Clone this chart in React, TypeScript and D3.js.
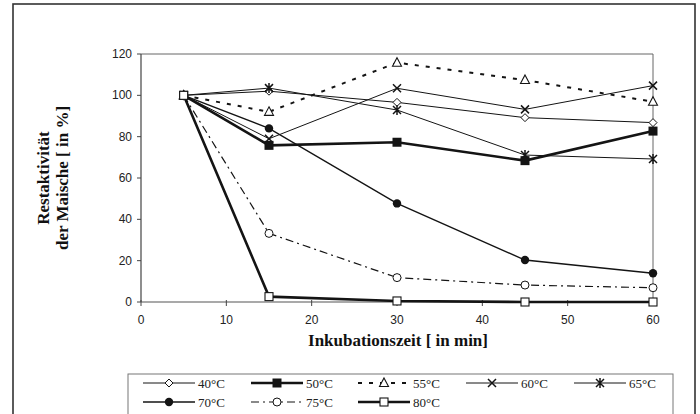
import React from "react";
import * as d3 from "d3";

const times = [5, 15, 30, 45, 60];
const seriesNames = ["40°C", "50°C", "55°C", "60°C", "65°C", "70°C", "75°C", "80°C"];
const s40 = [100, 102, 96.6, 89.2, 86.8];
const s50 = [100, 75.8, 77.3, 68.4, 82.7];
const s55 = [100, 92, 115.8, 107.4, 96.9];
const s60 = [100, 79, 103.4, 93.2, 104.7];
const s65 = [100, 103.5, 92.9, 71.1, 69.2];
const s70 = [100, 84, 47.7, 20.3, 13.9];
const s75 = [100, 33.2, 11.8, 8.2, 6.9];
const s80 = [100, 2.6, 0.5, 0, 0];
const xTicks = [0, 10, 20, 30, 40, 50, 60];
const yTicks = [0, 20, 40, 60, 80, 100, 120];

type Style = { w: number; dash?: string; marker: string };
const styles: Style[] = [
  { w: 1, marker: "diamond" },
  { w: 2.6, marker: "filledSquare" },
  { w: 2, dash: "4,7", marker: "triangle" },
  { w: 1, marker: "x" },
  { w: 1, marker: "star" },
  { w: 1.4, marker: "filledCircle" },
  { w: 1.2, dash: "8,4,2,4", marker: "circle" },
  { w: 2.6, marker: "square" },
];
const allSeries = [s40, s50, s55, s60, s65, s70, s75, s80];

const ink = "#141414";

function Marker({ type, x, y }: { type: string; x: number; y: number }) {
  const r = 4;
  switch (type) {
    case "diamond":
      return <path d={`M${x},${y - r}L${x + r},${y}L${x},${y + r}L${x - r},${y}Z`} fill="white" stroke={ink} strokeWidth={1} />;
    case "filledSquare":
      return <rect x={x - 4.5} y={y - 4.5} width={9} height={9} fill={ink} />;
    case "triangle":
      return <path d={`M${x},${y - 5}L${x + 4.5},${y + 3.5}L${x - 4.5},${y + 3.5}Z`} fill="white" stroke={ink} strokeWidth={1.1} />;
    case "x":
      return <path d={`M${x - 4},${y - 4}L${x + 4},${y + 4}M${x + 4},${y - 4}L${x - 4},${y + 4}`} stroke={ink} strokeWidth={1.5} />;
    case "star":
      return <path d={`M${x - 4},${y - 4}L${x + 4},${y + 4}M${x + 4},${y - 4}L${x - 4},${y + 4}M${x},${y - 5}L${x},${y + 5}`} stroke={ink} strokeWidth={1.5} />;
    case "filledCircle":
      return <circle cx={x} cy={y} r={4.2} fill={ink} />;
    case "circle":
      return <circle cx={x} cy={y} r={4} fill="white" stroke={ink} strokeWidth={1} />;
    case "square":
      return <rect x={x - 4} y={y - 4} width={8} height={8} fill="white" stroke={ink} strokeWidth={1.1} />;
  }
  return null;
}

export default function App() {
  const x = d3.scaleLinear().domain([0, 60]).range([141, 653]);
  const y = d3.scaleLinear().domain([0, 120]).range([302, 54]);
  const line = d3
    .line<number>()
    .x((_, i) => x(times[i]))
    .y((d) => y(d));

  const legendCols = [143, 251, 358, 466, 574];
  const legendRows = [383, 402];

  return (
    <svg width={700} height={414} style={{ position: "absolute", left: 0, top: 0, background: "white" }}>
      <rect x={0} y={0} width={700} height={414} fill="white" />
      <rect x={13} y={4} width={682} height={430} fill="none" stroke="#333" strokeWidth={1.6} />
      {/* plot frame */}
      <path d={`M${x(0)},${y(120)}H${x(60)}V${y(0)}`} fill="none" stroke="#666" strokeWidth={1} />
      <line x1={x(0)} x2={x(0)} y1={y(0)} y2={y(120)} stroke="#444" strokeWidth={1.2} />
      <line x1={x(0)} x2={x(60)} y1={y(0)} y2={y(0)} stroke="#555" strokeWidth={1.1} />
      {yTicks.map((t) => (
        <g key={"y" + t}>
          <line x1={x(0) - 4} x2={x(0)} y1={y(t)} y2={y(t)} stroke="#444" />
          <text x={x(0) - 9} y={y(t) + 4} textAnchor="end" fontFamily="Liberation Sans, Arial, sans-serif" fontSize={12} fill="#222">
            {t}
          </text>
        </g>
      ))}
      {xTicks.map((t) => (
        <g key={"x" + t}>
          <line x1={x(t)} x2={x(t)} y1={y(0) - 2} y2={y(0) + 4} stroke="#444" />
          <text x={x(t)} y={y(0) + 22} textAnchor="middle" fontFamily="Liberation Sans, Arial, sans-serif" fontSize={12} fill="#222">
            {t}
          </text>
        </g>
      ))}
      {/* axis titles */}
      <text x={398} y={346} textAnchor="middle" fontFamily="Liberation Serif, Times New Roman, serif" fontWeight="bold" fontSize={17} fill="#111">
        Inkubationszeit [ in min]
      </text>
      <g transform={`translate(49,178) rotate(-90)`}>
        <text x={0} y={0} textAnchor="middle" fontFamily="Liberation Serif, Times New Roman, serif" fontWeight="bold" fontSize={17} fill="#111">
          Restaktivität
        </text>
        <text x={0} y={19} textAnchor="middle" fontFamily="Liberation Serif, Times New Roman, serif" fontWeight="bold" fontSize={17} fill="#111">
          der Maische [ in %]
        </text>
      </g>
      {/* series */}
      {allSeries.map((s, i) => (
        <path key={"l" + i} d={line(s) || ""} fill="none" stroke={ink} strokeWidth={styles[i].w} strokeDasharray={styles[i].dash} />
      ))}
      {allSeries.map((s, i) => (
        <g key={"m" + i}>
          {s.map((v, j) => (
            <Marker key={j} type={styles[i].marker} x={x(times[j])} y={y(v)} />
          ))}
        </g>
      ))}
      {/* legend */}
      <rect x={128} y={374} width={545} height={50} fill="none" stroke="#777" strokeWidth={1} />
      {seriesNames.map((name, i) => {
        const cx = legendCols[i % 5];
        const cy = legendRows[Math.floor(i / 5)];
        const st = styles[i];
        return (
          <g key={"lg" + i}>
            <line x1={cx} x2={cx + 52} y1={cy} y2={cy} stroke={ink} strokeWidth={st.w} strokeDasharray={st.dash} />
            <Marker type={st.marker} x={cx + 26} y={cy} />
            <text x={cx + 55} y={cy + 4.5} fontFamily="Liberation Serif, Times New Roman, serif" fontSize={13} fill="#222">
              {name}
            </text>
          </g>
        );
      })}
    </svg>
  );
}
